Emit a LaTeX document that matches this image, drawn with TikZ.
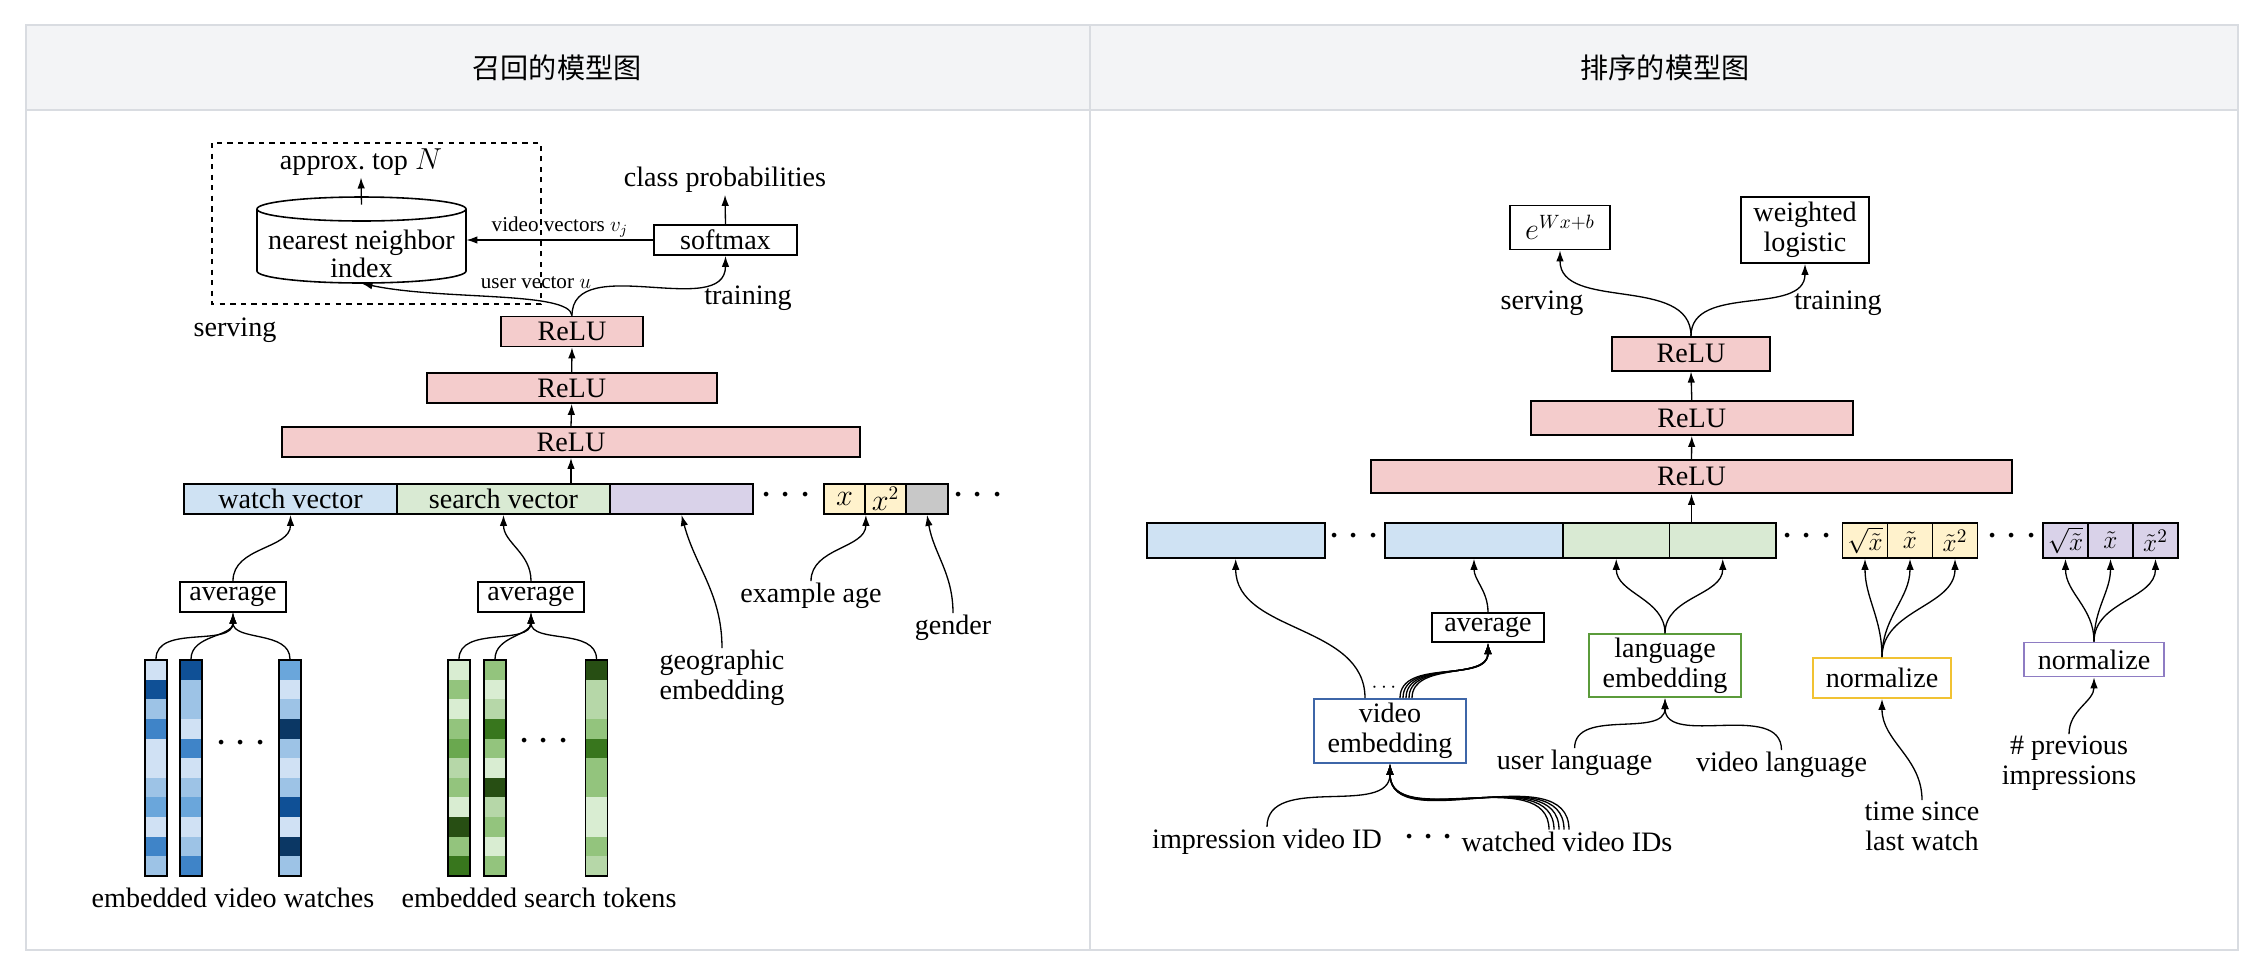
\documentclass[tikz,border=0pt]{standalone}
\usepackage{fontspec}
\setmainfont{Liberation Serif}
\newfontfamily\cjk{Noto Sans CJK SC}
\usetikzlibrary{arrows.meta}

\definecolor{relu}{HTML}{F4CCCC}
\definecolor{watchblue}{HTML}{CFE2F3}
\definecolor{searchgreen}{HTML}{D9EAD3}
\definecolor{geopurple}{HTML}{D9D2E9}
\definecolor{ageyellow}{HTML}{FFF2CC}
\definecolor{gendergray}{HTML}{C8C8C8}
\definecolor{vidblue}{HTML}{3E66A8}
\definecolor{langgreen}{HTML}{5B9B3B}
\definecolor{normyellow}{HTML}{F1C232}
\definecolor{normpurple}{HTML}{8E7CC3}
\definecolor{headgray}{HTML}{F3F4F6}
\definecolor{framegray}{HTML}{D9DCE1}
\definecolor{bL}{HTML}{D0E1F4}
\definecolor{bM}{HTML}{9DC3E6}
\definecolor{bS}{HTML}{6AA6DB}
\definecolor{bB}{HTML}{3F84C8}
\definecolor{bD}{HTML}{0F5096}
\definecolor{bN}{HTML}{0B3764}
\definecolor{gL}{HTML}{D9EDD2}
\definecolor{gM}{HTML}{93C47D}
\definecolor{gT}{HTML}{6AA84F}
\definecolor{gP}{HTML}{B6D7A8}
\definecolor{gD}{HTML}{274E13}
\definecolor{gG}{HTML}{38761D}

\tikzset{
  layer/.style={draw, fill=relu, line width=1pt, inner sep=0pt, minimum height=6mm},
  opbox/.style={draw, fill=white, line width=1pt, inner sep=2pt, align=center},
  seg/.style={draw, line width=1pt, inner sep=0pt, minimum height=6mm},
  mathcell/.style={seg, minimum width=9mm, minimum height=7mm, font=\fontsize{15}{15}\selectfont},
  col/.style={draw, line width=1pt, inner sep=0pt, minimum width=4.4mm, minimum height=43.2mm},
  lbl/.style={inner sep=1pt, align=center},
  small/.style={inner sep=1pt, font=\fontsize{12}{14}\selectfont},
  ellip/.style={inner sep=0pt, font=\fontsize{26}{26}\selectfont},
  link/.style={-{Latex[length=2.2mm,width=1.5mm]}, line width=0.75pt},
  frame/.style={draw=framegray, line width=0.5mm},
}

\begin{document}
\begin{tikzpicture}[x=0.2mm, y=-0.2mm, font=\fontsize{16}{17}\selectfont]
\useasboundingbox (0,0) rectangle (2264,972);

\fill[headgray] (26,25) rectangle (2238,110);
\draw[frame] (26,25) rectangle (2238,950);
\draw[frame] (26,110) -- (2238,110);
\draw[frame] (1090,25) -- (1090,950);
\node[font=\cjk\fontsize{16}{16}\selectfont] (headl) at (557,68) {召回的模型图};
\node[font=\cjk\fontsize{16}{16}\selectfont] (headr) at (1665,68) {排序的模型图};

% candidate generation
\draw[dashed, line width=0.8pt] (212,143) rectangle (541,304);
\draw[fill=white, line width=0.9pt] (257,209) -- (257,271)
  arc[start angle=180, end angle=360, x radius=20.9mm, y radius=2.4mm] -- (466,209);
\draw[line width=0.9pt] (361.5,209) ellipse[x radius=20.9mm, y radius=2.4mm];
\node[minimum width=41.8mm, minimum height=17.2mm, inner sep=0pt] (cyl) at (361.5,240) {};
\node[lbl] (nn) at (361.5,254) {nearest neighbor\\[-1pt]index};
\node[lbl] (topn) at (361,162) {approx.\ top $N$};
\draw[link] ([yshift=-1.6mm]cyl.north) -- (topn.south);

\node[opbox, minimum width=28.6mm, minimum height=6mm] (smax) at (725.5,240) {softmax};
\node[lbl] (probs) at (725,180) {class probabilities};
\draw[link] (smax.north) -- (probs.south);
\draw[link] (smax.west) -- node[small, above, pos=0.5] {video vectors $v_j$} (smax.west -| cyl.east);

\node[layer, minimum width=28.4mm] (relu1) at (572,331.5) {ReLU};
\node[layer, minimum width=58mm] (relu2) at (571.7,388) {ReLU};
\node[layer, minimum width=115.6mm] (relu3) at (571,442) {ReLU};
\draw[link] (relu2.north) -- (relu1.south);
\draw[link] (relu3.north) -- (relu2.south);
\draw[link] (relu1.north) to[out=95, in=-12, out looseness=0.3] (cyl.south);
\draw[link] (relu1.north) to[out=90, in=-90] (smax.south);
\node[small] (uvec) at (536,283) {user vector $u$};
\node[lbl] (train) at (748,298) {training};
\node[lbl] (serve) at (235,330) {serving};

\node[seg, fill=watchblue, minimum width=42.6mm] (watch) at (290.5,499) {watch vector};
\node[seg, fill=searchgreen, minimum width=42.6mm] (search) at (503.5,499) {search vector};
\node[seg, fill=geopurple, minimum width=28.6mm] (geo) at (681.5,499) {};
\node[ellip] (ldots1) at (786,496) {$\cdots$};
\node[seg, fill=ageyellow, minimum width=8.2mm] (xc) at (844.5,499) {$x$};
\node[seg, fill=ageyellow, minimum width=8.2mm] (xsq) at (885.5,499) {$x^2$};
\node[seg, fill=gendergray, minimum width=8.4mm] (gend) at (927,499) {};
\node[ellip] (ldots2) at (978,496) {$\cdots$};
\draw[link] (relu3.south |- search.north) -- (relu3.south);

\node[opbox, minimum width=21.2mm, minimum height=6mm] (avgw) at (233,596.7) {average};
\node[opbox, minimum width=21.2mm, minimum height=6mm] (avgs) at (531,596.7) {average};
\draw[link] (avgw.north) to[out=90, in=-90] (watch.south);
\draw[link] (avgs.north) to[out=90, in=-90] (search.south);
\node[lbl] (geoemb) at (722,678) {geographic\\embedding};
\draw[link] (geoemb.north) to[out=90, in=-75] (geo.south);
\node[lbl] (age) at (811,596) {example age};
\draw[link] (age.north) to[out=90, in=-90] (xc.south east);
\node[lbl] (gender) at (953,628) {gender};
\draw[link] (gender.north) to[out=90, in=-80] (gend.south);

\foreach \xx/\cells/\nm in {
  156/{bL,bD,bM,bB,bL,bL,bM,bS,bL,bB,bM}/w1,
  191/{bD,bM,bM,bL,bB,bL,bM,bS,bL,bM,bB}/w2,
  290/{bS,bL,bM,bN,bM,bL,bM,bD,bL,bN,bM}/w3,
  459/{gL,gM,gL,gM,gT,gP,gM,gL,gD,gM,gG}/s1,
  495/{gM,gL,gP,gG,gM,gL,gD,gP,gM,gL,gM}/s2,
  596.5/{gD,gP,gP,gM,gG,gM,gM,gL,gL,gM,gP}/s3}{
  \foreach \c [count=\i] in \cells
    \fill[\c] ({\xx-11},{660+19.636*(\i-1)}) rectangle ++(22,19.636);
  \node[col] (\nm) at (\xx,768) {};
}
\foreach \c in {w1,w2,w3}
  \draw[link] (\c.north) to[out=90, in=-90] (avgw.south);
\foreach \c in {s1,s2,s3}
  \draw[link] (\c.north) to[out=90, in=-90] (avgs.south);
\node[ellip] (wdots) at (241,744) {$\cdots$};
\node[ellip] (sdots) at (544,742) {$\cdots$};
\node[lbl] (wlab) at (233,898) {embedded video watches};
\node[lbl] (slab) at (539,898) {embedded search tokens};

% ranking
\node[opbox, minimum width=20mm, minimum height=8.8mm] (expbox) at (1560,227.5) {$e^{Wx+b}$};
\node[opbox, minimum width=25.6mm, minimum height=13.2mm] (wlog) at (1805,230) {weighted\\logistic};
\node[layer, minimum width=31.7mm, minimum height=6.8mm] (rrelu1) at (1691,353.7) {ReLU};
\node[layer, minimum width=64.4mm, minimum height=6.8mm] (rrelu2) at (1691.8,418) {ReLU};
\node[layer, minimum width=128.2mm, minimum height=6.6mm] (rrelu3) at (1691.5,476.5) {ReLU};
\draw[link] (rrelu1.north) to[out=90, in=-90] (expbox.south);
\draw[link] (rrelu1.north) to[out=90, in=-90] (wlog.south);
\node[lbl] (rserve) at (1542,303) {serving};
\node[lbl] (rtrain) at (1838,303) {training};
\draw[link] (rrelu2.north) -- (rrelu1.south);
\draw[link] (rrelu3.north) -- (rrelu2.south);

\node[seg, fill=watchblue, minimum width=35.6mm, minimum height=7mm] (impcell) at (1235.7,540.4) {};
\node[ellip] (rdots1) at (1354,537) {$\cdots$};
\node[seg, fill=watchblue, minimum width=35.6mm, minimum height=7mm] (watchcell) at (1474,540.4) {};
\node[seg, fill=searchgreen, minimum width=21.3mm, minimum height=7mm] (ulangcell) at (1616.25,540.4) {};
\node[seg, fill=searchgreen, minimum width=21.3mm, minimum height=7mm] (vlangcell) at (1722.75,540.4) {};
\node[ellip] (rdots2) at (1807,537) {$\cdots$};
\foreach \n/\xx/\t in {y1/1865/{$\sqrt{\tilde x}$}, y2/1910/{$\tilde x$}, y3/1955/{$\tilde x^2$}}
  \node[mathcell, fill=ageyellow] (\n) at (\xx,540.4) {\t};
\node[ellip] (rdots3) at (2012,537) {$\cdots$};
\foreach \n/\xx/\t in {p1/2065.5/{$\sqrt{\tilde x}$}, p2/2110.5/{$\tilde x$}, p3/2155.5/{$\tilde x^2$}}
  \node[mathcell, fill=geopurple] (\n) at (\xx,540.4) {\t};
\draw[link] (rrelu3.south |- vlangcell.north) -- (rrelu3.south);

\node[opbox, minimum width=22.4mm, minimum height=5.8mm] (ravg) at (1488,627.7) {average};
\draw[link] (ravg.north) to[out=90, in=-90] (watchcell.south);
\node[opbox, draw=langgreen, minimum width=30.4mm, minimum height=12.6mm] (langemb) at (1665,665.7) {language\\embedding};
\draw[link] (langemb.north) to[out=90, in=-90] (ulangcell.south);
\draw[link] (langemb.north) to[out=90, in=-90] (vlangcell.south);
\node[opbox, draw=normyellow, minimum width=27.6mm, minimum height=8mm] (ynorm) at (1882,678) {normalize};
\foreach \n in {y1,y2,y3}
  \draw[link] (ynorm.north) to[out=90, in=-90] (\n.south);
\node[opbox, draw=normpurple, minimum width=28mm, minimum height=6.8mm] (pnorm) at (2094,659.4) {normalize};
\foreach \n in {p1,p2,p3}
  \draw[link] (pnorm.north) to[out=90, in=-90] (\n.south);

\node[opbox, draw=vidblue, minimum width=30.4mm, minimum height=12.8mm] (videmb) at (1390,731) {video\\embedding};
\draw[link] ([xshift=-5mm]videmb.north) to[out=90, in=-90] (impcell.south);
\foreach \s in {2,2.6,3.2,3.8,4.4}
  \draw[link] ([xshift=\s mm]videmb.north) to[out=90, in=-90] (ravg.south);
\node[small] (vdots) at (1384,688) {$\cdots$};

\node[lbl] (impid) at (1267,841.7) {impression video ID};
\node[ellip] (iddots) at (1428.6,838) {$\cdots$};
\node[lbl] (watched) at (1567,841.7) {watched video IDs};
\draw[link] (impid.north) to[out=90, in=-90] (videmb.south);
\foreach \s in {-3.6,-2.6,-1.6,-0.6,0.4}
  \draw[link] ([xshift=\s mm]watched.north) to[out=90, in=-90] (videmb.south);
\node[lbl] (ulang) at (1574.6,763) {user language};
\node[lbl] (vlang) at (1781.5,765) {video language};
\draw[link] (ulang.north) to[out=90, in=-90] (langemb.south);
\draw[link] (vlang.north) to[out=90, in=-90] (langemb.south);
\node[lbl] (tsince) at (1922,826.5) {time since\\last watch};
\draw[link] (tsince.north) to[out=90, in=-90] (ynorm.south);
\node[lbl] (previmp) at (2069,763.4) {\# previous\\impressions};
\draw[link] (previmp.north) to[out=90, in=-90] (pnorm.south);
\end{tikzpicture}
\end{document}
